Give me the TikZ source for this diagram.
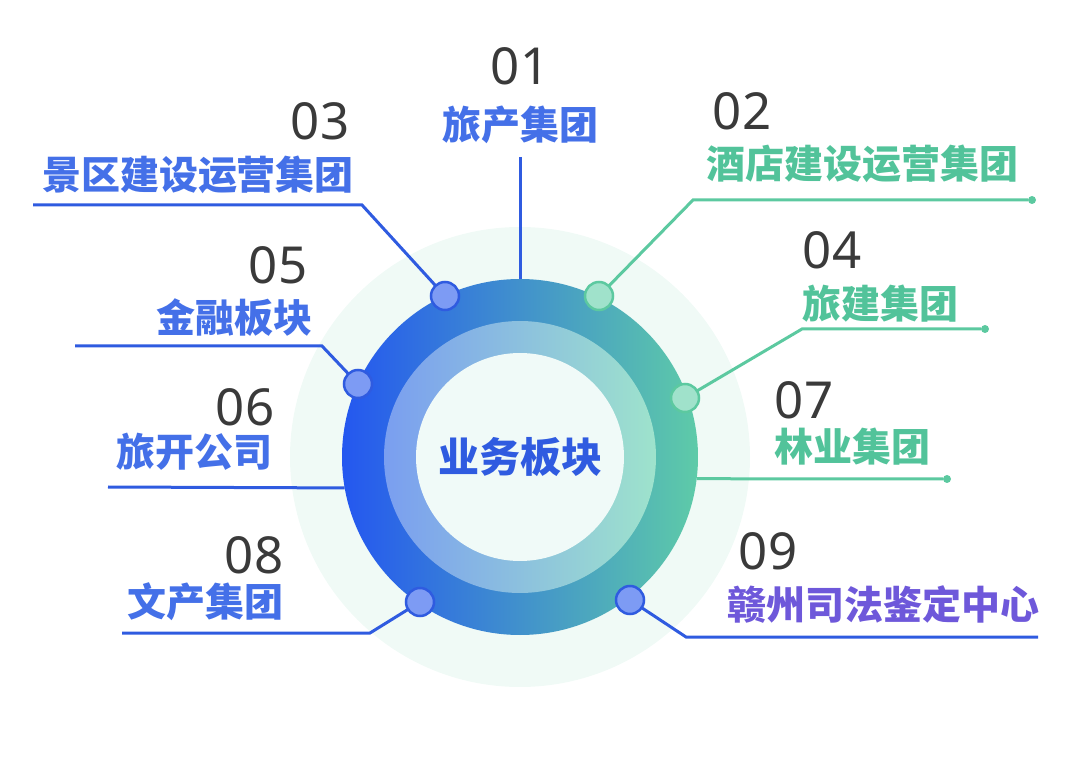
\documentclass[tikz,border=0pt]{standalone}
\usepackage{fontspec}
\setmainfont{Noto Sans}
\newfontfamily\cjk{Noto Sans CJK SC}
\usepackage{tikz}
\usetikzlibrary{positioning,calc}
\definecolor{ringblue}{HTML}{2457F0}
\definecolor{ringgreen}{HTML}{5ECBA8}
\definecolor{midblue}{HTML}{7A9EF0}
\definecolor{midgreen}{HTML}{9EE3CC}
\definecolor{corefill}{HTML}{F0FAF8}
\definecolor{glowfill}{HTML}{F0FAF6}
\definecolor{lineblue}{HTML}{2F5BE0}
\definecolor{linegreen}{HTML}{5CC9A0}
\definecolor{txtblue}{HTML}{4470E8}
\definecolor{txtgreen}{HTML}{52C39A}
\definecolor{txtpurple}{HTML}{6E58DA}
\definecolor{numgray}{HTML}{3A3A3A}
\definecolor{dotblue}{HTML}{7D9BF4}
\definecolor{dotgreen}{HTML}{A0E2CB}
\tikzstyle{num}=[%
      text=numgray, inner sep=0pt, font=\fontsize{51}{51}\selectfont
]
\tikzstyle{lbl}=[%
      inner sep=0pt, text height=31.5pt, text depth=2pt,
      font=\cjk\bfseries\fontsize{39}{39}\selectfont
]
\tikzstyle{lnb}=[draw=lineblue, line width=3pt]
\tikzstyle{lng}=[draw=linegreen, line width=3pt]
\tikzstyle{dotb}=[%
      circle, fill=dotblue, draw=lineblue, line width=2.5pt, minimum size=28pt, inner sep=0pt
]
\tikzstyle{dotg}=[%
      circle, fill=dotgreen, draw=linegreen, line width=2.5pt, minimum size=28pt, inner sep=0pt
]
\tikzstyle{tip}=[circle, fill=linegreen, minimum size=8pt, inner sep=0pt]

\begin{document}
\begin{tikzpicture}[x=1pt, y=-1pt]
    \useasboundingbox (0,0) rectangle (1080,783);
    % rings
    \node[circle, fill=glowfill, minimum size=460pt, inner sep=0pt] (glow) at (520,457) {};
    \node[circle, left color=ringblue, right color=ringgreen, minimum size=356pt, inner sep=0pt] (outer) at (glow.center) {};
    \node[circle, left color=midblue, right color=midgreen, minimum size=272pt, inner sep=0pt] (inner) at (outer.center) {};
    \node[circle, fill=corefill, minimum size=208pt, inner sep=0pt, text=lineblue,
          font=\cjk\bfseries\fontsize{41}{41}\selectfont] (core) at (inner.center) {业务板块};

    % labels
    \node[num] (n01) at (520,66) {01};
    \node[lbl, text=txtblue] (l01) at (520,125) {旅产集团};
    \node[num] (n02) at (742,111) {02};
    \node[lbl, text=txtgreen] (l02) at (862,164) {酒店建设运营集团};
    \node[num] (n03) at (320,121) {03};
    \node[lbl, text=txtblue] (l03) at (198,175) {景区建设运营集团};
    \node[num] (n04) at (832,250) {04};
    \node[lbl, text=txtgreen] (l04) at (880,304) {旅建集团};
    \node[num] (n05) at (278,265) {05};
    \node[lbl, text=txtblue] (l05) at (234,318) {金融板块};
    \node[num] (n06) at (245,407) {06};
    \node[lbl, text=txtblue] (l06) at (194,452) {旅开公司};
    \node[num] (n07) at (804,400) {07};
    \node[lbl, text=txtgreen] (l07) at (852,447) {林业集团};
    \node[num] (n08) at (254,555) {08};
    \node[lbl, text=txtblue] (l08) at (205,602) {文产集团};
    \node[num] (n09) at (768,551) {09};
    \node[lbl, text=txtpurple] (l09) at (883,605) {赣州司法鉴定中心};

    % bends and ends
    \coordinate (e01) at (520,157);
    \coordinate (k02) at (693,200);
    \node[tip] (e02) at (1032,200) {};
    \coordinate (e03) at (33,205);
    \coordinate (k03) at (362,205);
    \coordinate (k04) at (802,329);
    \node[tip] (e04) at (985,329) {};
    \coordinate (e05) at (75,346);
    \coordinate (k05) at (322,346);
    \coordinate (e06) at (108,487);
    \node[tip] (e07) at (947,479) {};
    \coordinate (e08) at (122,633);
    \coordinate (k08) at (370,633);
    \coordinate (k09) at (686,637);
    \coordinate (e09) at (1038,637);

    % dots
    \coordinate (p02) at (599,296);
    \coordinate (p03) at (445,296);
    \coordinate (p04) at (685,398);
    \coordinate (p05) at (358,384);
    \coordinate (p08) at (420,602);
    \coordinate (p09) at (630,600);

    \draw[lnb] (e01) -- (outer.north);
    \draw[lng] (p02) -- (k02) -- (e02);
    \draw[lnb] (e03) -- (k03) -- (p03);
    \draw[lng] (p04) -- (k04) -- (e04);
    \draw[lnb] (e05) -- (k05) -- (p05);
    \draw[lnb] (e06) -- (outer.190);
    \draw[lng] (outer.353) -- (e07);
    \draw[lnb] (e08) -- (k08) -- (p08);
    \draw[lnb] (p09) -- (k09) -- (e09);

    \node[dotg] (d02) at (p02) {};
    \node[dotb] (d03) at (p03) {};
    \node[dotg] (d04) at (p04) {};
    \node[dotb] (d05) at (p05) {};
    \node[dotb] (d08) at (p08) {};
    \node[dotb] (d09) at (p09) {};
\end{tikzpicture}
\end{document}
